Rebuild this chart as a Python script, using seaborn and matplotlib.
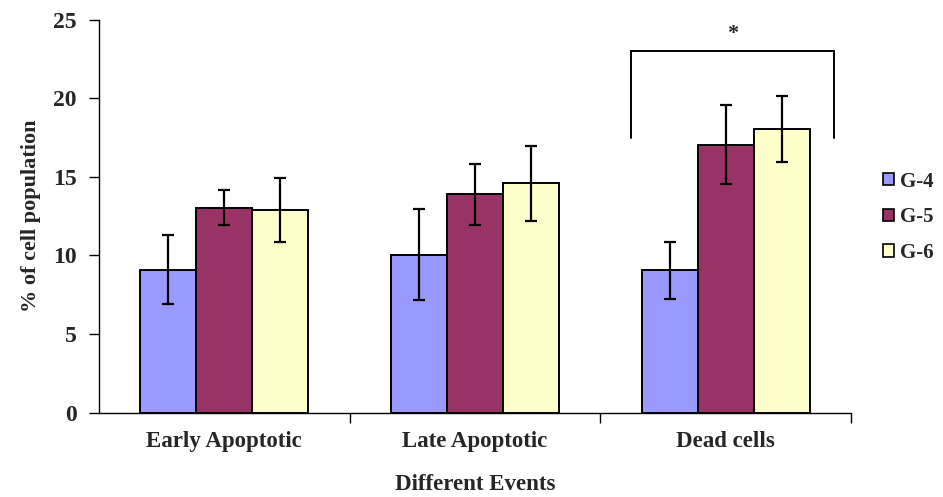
import matplotlib
matplotlib.use("Agg")
import matplotlib.pyplot as plt
from matplotlib.patches import Patch
import seaborn as sns
import pandas as pd

events = ["Early Apoptotic", "Late Apoptotic", "Dead cells"]
groups = ["G-4", "G-5", "G-6"]
g4_mean = [9.1, 10.05, 9.05]
g5_mean = [13.05, 13.9, 17.05]
g6_mean = [12.9, 14.6, 18.05]
g4_err = [2.2, 2.9, 1.8]
g5_err = [1.1, 1.95, 2.5]
g6_err = [2.05, 2.4, 2.1]
colors = ["#9999FF", "#993366", "#FFFFCC"]

means = [g4_mean, g5_mean, g6_mean]
errs = [g4_err, g5_err, g6_err]
df = pd.DataFrame({
    "event": [e for _ in groups for e in events],
    "group": [g for g in groups for _ in events],
    "value": [v for m in means for v in m],
})

sns.set_theme(style="white")
plt.rcParams["font.family"] = ["Liberation Serif", "DejaVu Serif"]
plt.rcParams["font.weight"] = "bold"

fig = plt.figure(figsize=(9.43, 4.97), dpi=100)
ax = fig.add_axes([0.105, 0.170, 0.7975, 0.790])

sns.barplot(data=df, x="event", y="value", hue="group", order=events,
            hue_order=groups, palette=colors, width=0.67, errorbar=None,
            edgecolor="black", linewidth=1.4, saturation=1, ax=ax, legend=False)

# error bars placed on each bar's centre
for gi, g in enumerate(groups):
    cont = ax.containers[gi]
    xs = [p.get_x() + p.get_width() / 2 for p in cont.patches]
    ax.errorbar(xs, means[gi], yerr=errs[gi], fmt="none", ecolor="black",
                elinewidth=1.6, capsize=4.5, capthick=1.6, zorder=5)

# significance bracket over Dead cells
left = ax.containers[0].patches[2].get_x() - 0.042
right = ax.containers[2].patches[2].get_x() + ax.containers[2].patches[2].get_width() + 0.098
ax.plot([left, left, right, right], [17.5, 23.0, 23.0, 17.5], color="black",
        lw=1.4, solid_joinstyle="miter", clip_on=False)
ax.text((left + right) / 2, 24.1, "*", ha="center", va="center", fontsize=16,
        fontweight="bold")

ax.set_xlim(-0.5, 2.5)
ax.set_ylim(0, 25)
ax.set_yticks([0, 5, 10, 15, 20, 25])
ax.tick_params(axis="y", which="major", direction="out", length=7, width=1,
               color="black", labelsize=17, pad=9, left=True)
ax.set_xticks(range(3))
ax.set_xticklabels(events, fontsize=16.5, fontweight="bold")
ax.set_xticks([0.5, 1.5, 2.5], minor=True)
ax.tick_params(axis="x", which="major", length=0, pad=13)
ax.tick_params(axis="x", which="minor", direction="out", length=7, width=1,
               color="black", bottom=True)
for lab in ax.get_yticklabels():
    lab.set_fontweight("bold")

for s in ["top", "right"]:
    ax.spines[s].set_visible(False)
for s in ["left", "bottom"]:
    ax.spines[s].set_color("black")
    ax.spines[s].set_linewidth(1.0)

ax.set_ylabel("% of cell population", fontsize=16, fontweight="bold", labelpad=9)
ax.set_xlabel("Different Events", fontsize=16.5, fontweight="bold", labelpad=16)

handles = [Patch(facecolor=c, edgecolor="black", linewidth=1.2, label=g)
           for c, g in zip(colors, groups)]
fig.legend(handles=handles, loc="center left", bbox_to_anchor=(0.936, 0.563),
           frameon=False, fontsize=15, handlelength=0.55, handleheight=0.55,
           handletextpad=0.3, labelspacing=0.75, borderpad=0, borderaxespad=0)

fig.savefig("out.png", dpi=100)
